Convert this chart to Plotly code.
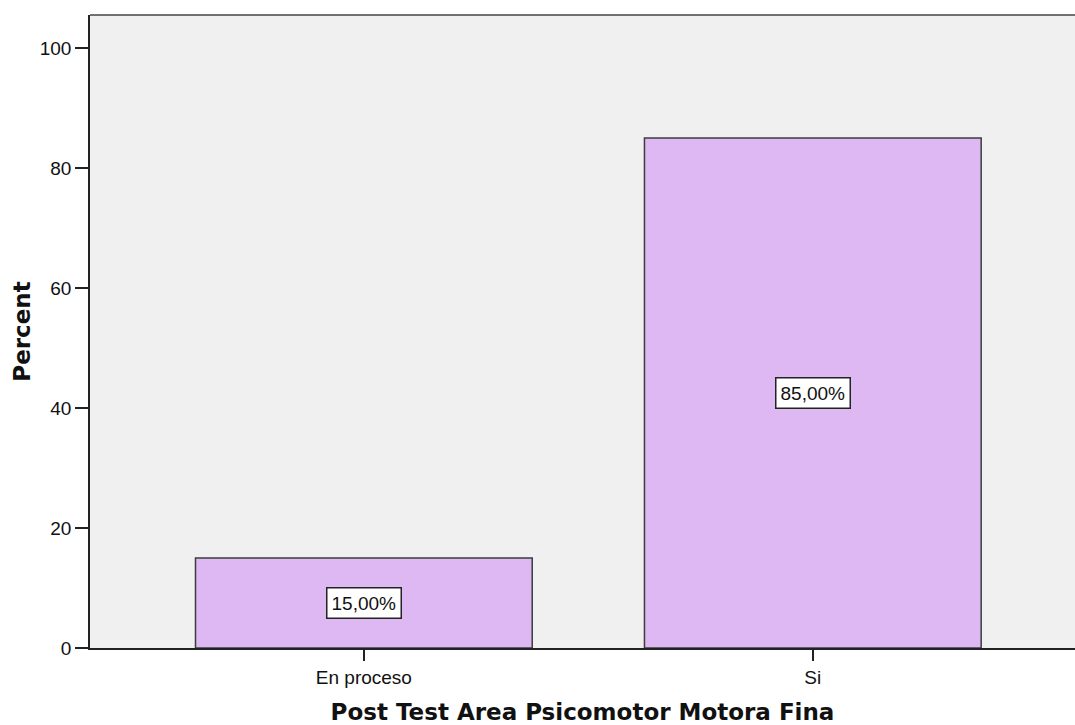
import plotly.graph_objects as go

categories = ["En proceso", "Si"]
percent = [15.0, 85.0]
labels = ["15,00%", "85,00%"]
y_ticks = [0, 20, 40, 60, 80, 100]

colors = {
    "bar": "#DDB8F2",
    "bar_line": "#3c3c3c",
    "plot_bg": "#F0F0F0",
    "axis": "#222222",
    "text": "#111111",
}

fig = go.Figure()

fig.add_trace(
    go.Bar(
        x=[0, 1],
        y=percent,
        width=0.75,
        marker=dict(color=colors["bar"], line=dict(color=colors["bar_line"], width=1.5)),
        hoverinfo="skip",
        showlegend=False,
    )
)

# value labels in white boxes at mid-height of each bar
for i, (v, txt) in enumerate(zip(percent, labels)):
    fig.add_annotation(
        x=i,
        y=v / 2,
        text=txt,
        showarrow=False,
        font=dict(family="Liberation Sans, Arial", size=19, color=colors["text"]),
        bgcolor="white",
        bordercolor="#222222",
        borderwidth=1.5,
        borderpad=4,
    )

fig.update_layout(
    width=1075,
    height=725,
    margin=dict(l=90, r=0, t=15, b=77),
    paper_bgcolor="white",
    plot_bgcolor=colors["plot_bg"],
    font=dict(family="Liberation Sans, Arial", size=19, color=colors["text"]),
    shapes=[
        dict(type="line", xref="paper", yref="paper", x0=0, x1=1, y0=1, y1=1,
             line=dict(color="#444444", width=1.5))
    ],
)

fig.update_xaxes(
    range=[-0.61, 1.584],
    tickmode="array",
    tickvals=[0, 1],
    ticktext=categories,
    ticks="outside",
    ticklen=11,
    tickwidth=1.5,
    tickcolor=colors["axis"],
    showline=True,
    linecolor=colors["axis"],
    linewidth=1.5,
    showgrid=False,
    zeroline=False,
    title=dict(
        text="<b>Post Test Area Psicomotor Motora Fina</b>",
        font=dict(family="DejaVu Sans", size=23, color=colors["text"]),
        standoff=21,
    ),
)

fig.update_yaxes(
    range=[0, 105.5],
    tickmode="array",
    tickvals=y_ticks,
    ticks="outside",
    ticklen=13,
    tickwidth=1.5,
    tickcolor=colors["axis"],
    showline=True,
    linecolor=colors["axis"],
    linewidth=1.5,
    showgrid=False,
    zeroline=False,
    title=dict(
        text="<b>Percent</b>",
        font=dict(family="DejaVu Sans", size=23, color=colors["text"]),
        standoff=3,
    ),
)

# drop the default page margin so the figure sits at the window's top-left corner
fig.write_html(
    "out.html",
    config={"displayModeBar": False},
    post_script="document.body.style.margin='0';document.body.style.overflow='hidden';",
)
